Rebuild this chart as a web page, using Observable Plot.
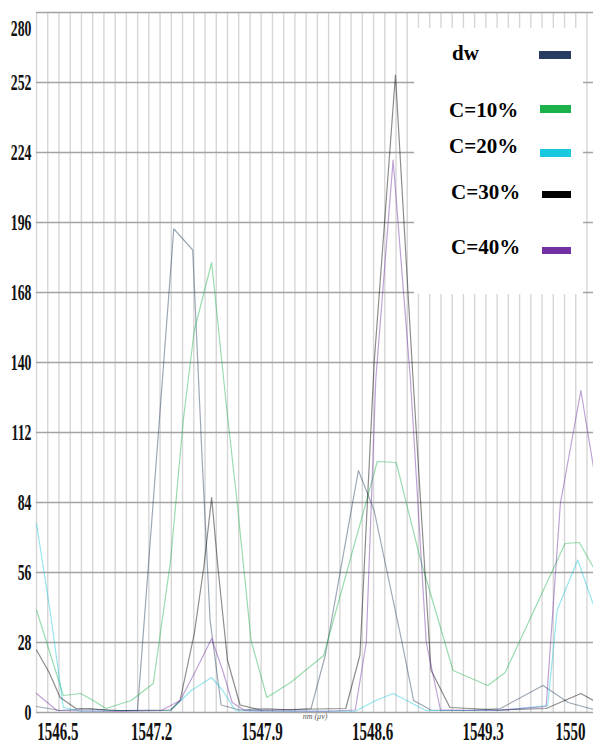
<!DOCTYPE html>
<html><head><meta charset="utf-8">
<script src="https://cdn.jsdelivr.net/npm/d3@7"></script>
<script src="https://cdn.jsdelivr.net/npm/@observablehq/plot@0.6"></script>
<style>
html,body{margin:0;padding:0;background:#fff;}
#wrap{position:relative;width:593px;height:754px;overflow:hidden;}
#legend{position:absolute;left:414px;top:28px;width:169px;height:266px;background:#fff;font-family:"Liberation Serif","Times New Roman",serif;font-weight:bold;font-size:21px;color:#000;}
#legend .lab{position:absolute;line-height:22px;white-space:nowrap;}
#legend .sw{position:absolute;}
</style></head><body>
<div id="wrap"><div id="chart"></div><div id="legend"></div></div>
<script>
// ---- data ----
const seriesNames = ["dw", "C=10%", "C=20%", "C=30%", "C=40%"];
const seriesColors = ["#263d60", "#1db14b", "#17c8de", "#000000", "#7231a2"];
const yTicks = [0, 28, 56, 84, 112, 140, 168, 196, 224, 252, 280];
const xTicks = [1546.5, 1547.2, 1547.9, 1548.6, 1549.3, 1550];
const xTitle = "nm (μν)";

const dwX = [1546.47,1546.62,1546.81,1546.94,1547.11,1547.34,1547.46,1547.52,1547.57,1547.64,1547.76,1547.93,1548.08,1548.21,1548.30,1548.51,1548.61,1548.69,1548.78,1548.86,1548.97,1549.20,1549.41,1549.68,1549.84,1550.00];
const dwY = [2.4,0.8,1.6,0.8,0.8,193.5,185,101,37,3,1,1.6,1,1.6,22.8,96.8,80.8,56.8,30,4.8,1,0.8,1.6,10.8,4,1.2];

const c10X = [1546.47,1546.64,1546.75,1546.83,1546.91,1547.07,1547.21,1547.32,1547.40,1547.47,1547.58,1547.67,1547.74,1547.83,1547.93,1548.08,1548.29,1548.63,1548.75,1548.90,1549.11,1549.33,1549.44,1549.82,1549.91,1550.00];
const c10Y = [41,6.8,7.6,4.8,1.6,4.8,11.6,60.8,116.8,152.8,180,124.8,84.8,28.8,6,12,22.8,100.4,100,62,16.8,10.8,16,67.6,68,58];

const c20X = [1546.47,1546.56,1546.64,1546.75,1547.00,1547.32,1547.45,1547.58,1547.65,1547.73,1548.00,1548.49,1548.62,1548.73,1548.84,1548.94,1549.40,1549.71,1549.77,1549.90,1550.00];
const c20Y = [75.6,39,2,0.5,0.8,0.8,8.8,14,8.8,0.8,0.5,0.5,4.8,7.6,4,0.8,0.8,2.8,41,61,43];

const c30X = [1546.47,1546.55,1546.62,1546.72,1547.00,1547.32,1547.38,1547.47,1547.53,1547.58,1547.62,1547.68,1547.76,1547.89,1548.43,1548.52,1548.61,1548.745,1548.85,1548.97,1549.09,1549.41,1549.70,1549.92,1550.00];
const c30Y = [25,16,6,1.6,0.8,1,4.8,31.6,58,86,58,21,3,1,1.6,23,140,255,140,17,2,1,1.6,7.6,4.8];

const c40X = [1546.47,1546.60,1547.00,1547.26,1547.38,1547.48,1547.58,1547.65,1547.71,1547.79,1548.30,1548.49,1548.56,1548.62,1548.73,1548.84,1548.94,1549.03,1549.39,1549.70,1549.79,1549.92,1550.00];
const c40Y = [7.6,0.8,0.4,0.8,4.8,16.8,29.6,16.8,4,0.8,0.5,1,28,133,221,133,28,1,0.8,2.4,83.6,128.8,98];

// ---- build table ----
const seriesXs = [dwX, c10X, c20X, c30X, c40X];
const seriesYs = [dwY, c10Y, c20Y, c30Y, c40Y];
const rows = [];
seriesNames.forEach((s, i) => seriesXs[i].forEach((x, j) => rows.push({s, x, y: seriesYs[i][j]})));

const xDomain = [1546.47, 1550];
const gridX = d3.range(0, 50).map(i => xDomain[0] + i * 0.0712);
const innerX = xTicks.slice(1, -1);
const fmt = d => String(d);

const tickFont = {fontSize: 25, fontWeight: "bold", tickFormat: fmt};
const chart = Plot.plot({
  width: 593, height: 754,
  marginTop: 12, marginBottom: 42, marginLeft: 36, marginRight: 0,
  style: {background: "#fff", fontFamily: "'Liberation Serif', 'Times New Roman', serif", color: "#111"},
  x: {domain: xDomain},
  y: {domain: [0, 280]},
  color: {domain: seriesNames, range: seriesColors},
  marks: [
    Plot.ruleX(gridX, {stroke: "#d6d6d6", strokeWidth: 1.4}),
    Plot.ruleY(yTicks, {stroke: "#a3a3a3", strokeWidth: 1.6}),
    Plot.line(rows, {x: "x", y: "y", z: "s", stroke: "s", strokeWidth: 1.2, strokeOpacity: 0.45}),
    Plot.axisX(innerX, {tickSize: 0, tickPadding: 10, label: null, ...tickFont}),
    Plot.axisX([xTicks[0]], {tickSize: 0, tickPadding: 10, label: null, textAnchor: "start", dx: -4, ...tickFont}),
    Plot.axisX([xTicks[xTicks.length - 1]], {tickSize: 0, tickPadding: 10, label: null, textAnchor: "end", dx: -8, ...tickFont}),
    Plot.axisY(yTicks.slice(0, -1), {tickSize: 0, tickPadding: 5, label: null, fontSize: 23, fontWeight: "bold", tickFormat: fmt}),
    Plot.axisY([yTicks[yTicks.length - 1]], {tickSize: 0, tickPadding: 5, label: null, dy: 16, fontSize: 23, fontWeight: "bold", tickFormat: fmt}),
    Plot.text([xTitle], {frameAnchor: "bottom", dy: 6, fontSize: 8, fill: "#555", fontStyle: "italic"})
  ]
});
document.getElementById("chart").appendChild(chart);

// condense tick labels horizontally (narrow serif look)
chart.querySelectorAll('g[aria-label="x-axis tick label"] text, g[aria-label="y-axis tick label"] text').forEach(t => {
  const tr = t.getAttribute("transform") || "";
  t.setAttribute("transform", tr + " scale(0.6,1)");
});

// ---- legend (HTML overlay) ----
const legendPos = [
  {lx: 38, ly: 14, sx: 125, sy: 23, sw: 32, sh: 8},
  {lx: 35, ly: 71, sx: 126, sy: 77, sw: 31, sh: 8},
  {lx: 35, ly: 107, sx: 126, sy: 121, sw: 31, sh: 8},
  {lx: 37, ly: 153, sx: 128, sy: 163, sw: 29, sh: 7},
  {lx: 37, ly: 208, sx: 128, sy: 219, sw: 29, sh: 7}
];
const leg = document.getElementById("legend");
seriesNames.forEach((s, i) => {
  const p = legendPos[i];
  const lab = document.createElement("div");
  lab.className = "lab"; lab.textContent = s;
  lab.style.left = p.lx + "px"; lab.style.top = p.ly + "px";
  leg.appendChild(lab);
  const sw = document.createElement("div");
  sw.className = "sw";
  sw.style.left = p.sx + "px"; sw.style.top = p.sy + "px";
  sw.style.width = p.sw + "px"; sw.style.height = p.sh + "px";
  sw.style.background = seriesColors[i];
  leg.appendChild(sw);
});
</script>
</body></html>
